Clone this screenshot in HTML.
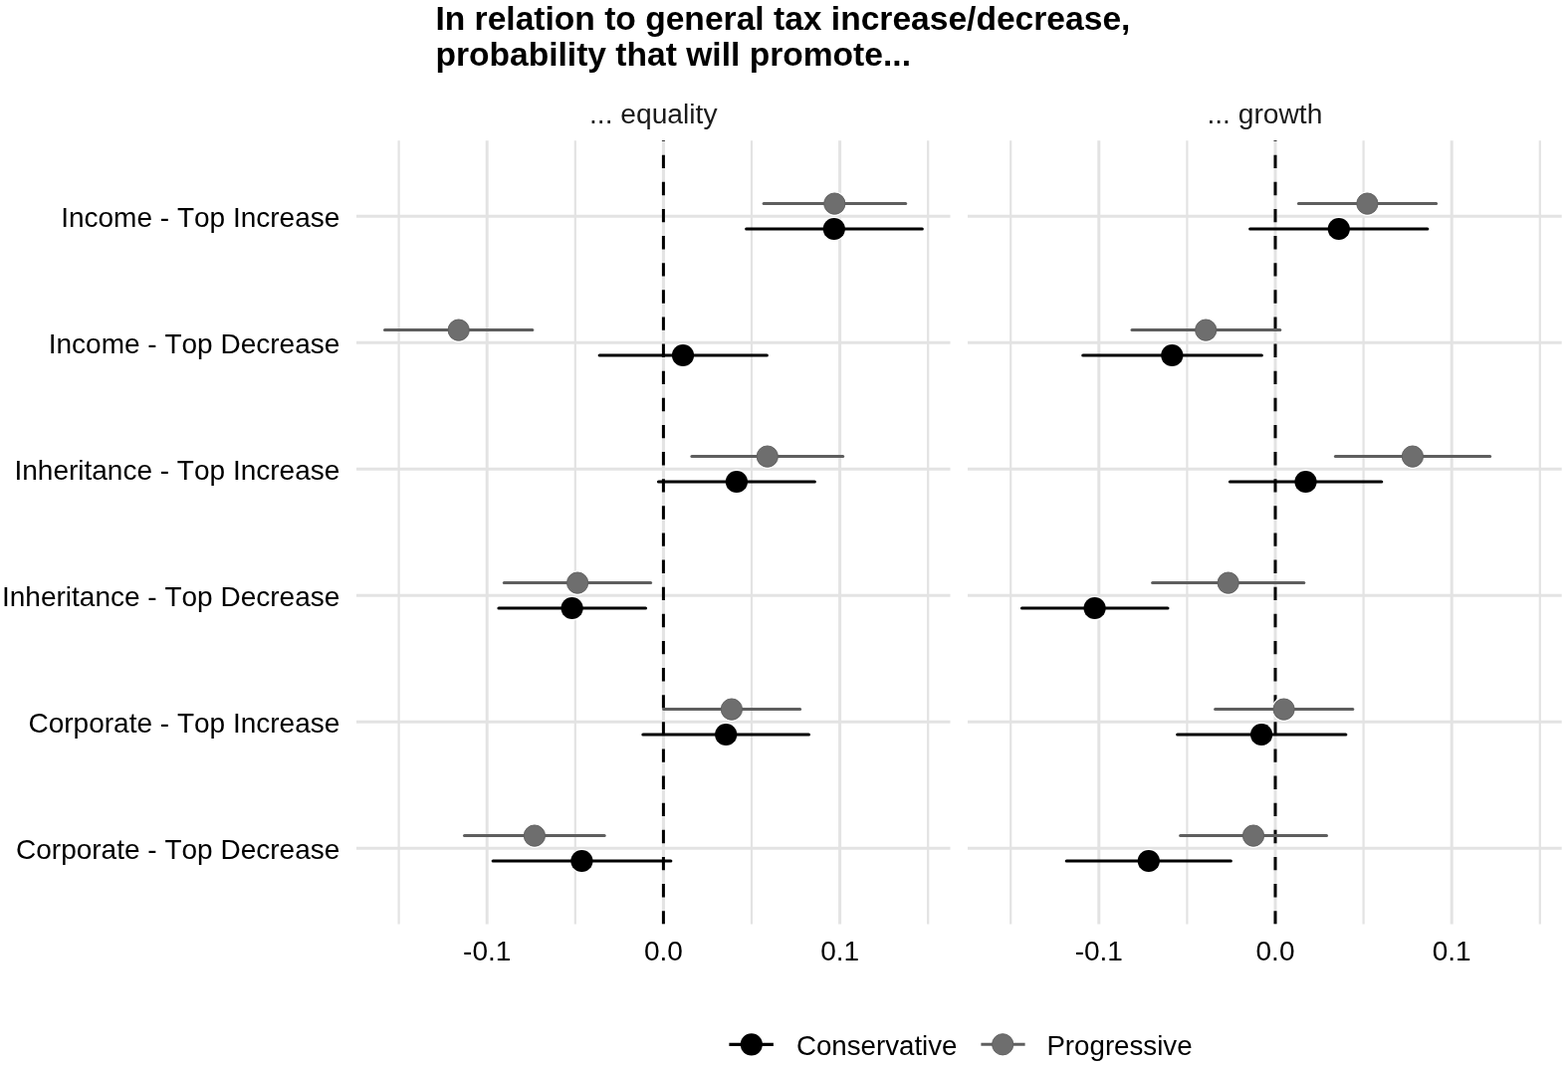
<!DOCTYPE html>
<html><head><meta charset="utf-8"><title>Tax increase/decrease probability plot</title>
<style>
html,body{margin:0;padding:0;background:#fff;}
body{width:1575px;height:1072px;overflow:hidden;}
svg{display:block;font-kerning:none;font-family:"Liberation Sans",Arial,Helvetica,sans-serif;}
</style></head>
<body>
<svg width="1575" height="1072" viewBox="0 0 1575 1072">
<rect width="1575" height="1072" fill="#fff"/>
<clipPath id="cl"><rect x="358" y="141.3" width="596.5" height="787.2"/></clipPath>
<line x1="400.6" y1="141.3" x2="400.6" y2="928.5" stroke="#e3e3e3" stroke-width="2.2"/>
<line x1="577.8" y1="141.3" x2="577.8" y2="928.5" stroke="#e3e3e3" stroke-width="2.2"/>
<line x1="755" y1="141.3" x2="755" y2="928.5" stroke="#e3e3e3" stroke-width="2.2"/>
<line x1="932.2" y1="141.3" x2="932.2" y2="928.5" stroke="#e3e3e3" stroke-width="2.2"/>
<line x1="489.2" y1="141.3" x2="489.2" y2="928.5" stroke="#e3e3e3" stroke-width="3.0"/>
<line x1="666.4" y1="141.3" x2="666.4" y2="928.5" stroke="#e3e3e3" stroke-width="3.0"/>
<line x1="843.6" y1="141.3" x2="843.6" y2="928.5" stroke="#e3e3e3" stroke-width="3.0"/>
<line x1="358" y1="217.3" x2="954.5" y2="217.3" stroke="#e3e3e3" stroke-width="3.0"/>
<line x1="358" y1="344.3" x2="954.5" y2="344.3" stroke="#e3e3e3" stroke-width="3.0"/>
<line x1="358" y1="471.3" x2="954.5" y2="471.3" stroke="#e3e3e3" stroke-width="3.0"/>
<line x1="358" y1="598.3" x2="954.5" y2="598.3" stroke="#e3e3e3" stroke-width="3.0"/>
<line x1="358" y1="725.3" x2="954.5" y2="725.3" stroke="#e3e3e3" stroke-width="3.0"/>
<line x1="358" y1="852.3" x2="954.5" y2="852.3" stroke="#e3e3e3" stroke-width="3.0"/>
<line clip-path="url(#cl)" x1="666.4" y1="128.575" x2="666.4" y2="948.5" stroke="#000" stroke-width="3" stroke-dasharray="13.4 13.725"/>
<circle cx="838.3" cy="204.6" r="12.3" fill="#fff"/>
<circle cx="837.8" cy="230" r="12.3" fill="#fff"/>
<circle cx="460.7" cy="331.6" r="12.3" fill="#fff"/>
<circle cx="686" cy="357" r="12.3" fill="#fff"/>
<circle cx="770.8" cy="458.6" r="12.3" fill="#fff"/>
<circle cx="739.9" cy="484" r="12.3" fill="#fff"/>
<circle cx="580.1" cy="585.6" r="12.3" fill="#fff"/>
<circle cx="574.6" cy="611" r="12.3" fill="#fff"/>
<circle cx="734.9" cy="712.6" r="12.3" fill="#fff"/>
<circle cx="729.2" cy="738" r="12.3" fill="#fff"/>
<circle cx="536.9" cy="839.6" r="12.3" fill="#fff"/>
<circle cx="584.4" cy="865" r="12.3" fill="#fff"/>
<line x1="767.1" y1="204.6" x2="909.7" y2="204.6" stroke="#5e5e5e" stroke-width="3.0" stroke-linecap="round"/>
<circle cx="838.3" cy="204.6" r="10.65" fill="#6e6e6e" stroke="#5f5f5f" stroke-width="0.9"/>
<line x1="749.7" y1="230" x2="926.3" y2="230" stroke="#000" stroke-width="3.2" stroke-linecap="round"/>
<circle cx="837.8" cy="230" r="11.1" fill="#000"/>
<line x1="386.5" y1="331.6" x2="534.8" y2="331.6" stroke="#5e5e5e" stroke-width="3.0" stroke-linecap="round"/>
<circle cx="460.7" cy="331.6" r="10.65" fill="#6e6e6e" stroke="#5f5f5f" stroke-width="0.9"/>
<line x1="602.2" y1="357" x2="770.3" y2="357" stroke="#000" stroke-width="3.2" stroke-linecap="round"/>
<circle cx="686" cy="357" r="11.1" fill="#000"/>
<line x1="694.9" y1="458.6" x2="846.7" y2="458.6" stroke="#5e5e5e" stroke-width="3.0" stroke-linecap="round"/>
<circle cx="770.8" cy="458.6" r="10.65" fill="#6e6e6e" stroke="#5f5f5f" stroke-width="0.9"/>
<line x1="661.5" y1="484" x2="818.3" y2="484" stroke="#000" stroke-width="3.2" stroke-linecap="round"/>
<circle cx="739.9" cy="484" r="11.1" fill="#000"/>
<line x1="506.3" y1="585.6" x2="653.6" y2="585.6" stroke="#5e5e5e" stroke-width="3.0" stroke-linecap="round"/>
<circle cx="580.1" cy="585.6" r="10.65" fill="#6e6e6e" stroke="#5f5f5f" stroke-width="0.9"/>
<line x1="501" y1="611" x2="648.5" y2="611" stroke="#000" stroke-width="3.2" stroke-linecap="round"/>
<circle cx="574.6" cy="611" r="11.1" fill="#000"/>
<line x1="666.6" y1="712.6" x2="803.6" y2="712.6" stroke="#5e5e5e" stroke-width="3.0" stroke-linecap="round"/>
<circle cx="734.9" cy="712.6" r="10.65" fill="#6e6e6e" stroke="#5f5f5f" stroke-width="0.9"/>
<line x1="645.9" y1="738" x2="812.4" y2="738" stroke="#000" stroke-width="3.2" stroke-linecap="round"/>
<circle cx="729.2" cy="738" r="11.1" fill="#000"/>
<line x1="466.5" y1="839.6" x2="607.2" y2="839.6" stroke="#5e5e5e" stroke-width="3.0" stroke-linecap="round"/>
<circle cx="536.9" cy="839.6" r="10.65" fill="#6e6e6e" stroke="#5f5f5f" stroke-width="0.9"/>
<line x1="495.2" y1="865" x2="673.8" y2="865" stroke="#000" stroke-width="3.2" stroke-linecap="round"/>
<circle cx="584.4" cy="865" r="11.1" fill="#000"/>
<clipPath id="cr"><rect x="972" y="141.3" width="596.7" height="787.2"/></clipPath>
<line x1="1015.2" y1="141.3" x2="1015.2" y2="928.5" stroke="#e3e3e3" stroke-width="2.2"/>
<line x1="1192.4" y1="141.3" x2="1192.4" y2="928.5" stroke="#e3e3e3" stroke-width="2.2"/>
<line x1="1369.6" y1="141.3" x2="1369.6" y2="928.5" stroke="#e3e3e3" stroke-width="2.2"/>
<line x1="1546.8" y1="141.3" x2="1546.8" y2="928.5" stroke="#e3e3e3" stroke-width="2.2"/>
<line x1="1103.8" y1="141.3" x2="1103.8" y2="928.5" stroke="#e3e3e3" stroke-width="3.0"/>
<line x1="1281" y1="141.3" x2="1281" y2="928.5" stroke="#e3e3e3" stroke-width="3.0"/>
<line x1="1458.2" y1="141.3" x2="1458.2" y2="928.5" stroke="#e3e3e3" stroke-width="3.0"/>
<line x1="972" y1="217.3" x2="1568.7" y2="217.3" stroke="#e3e3e3" stroke-width="3.0"/>
<line x1="972" y1="344.3" x2="1568.7" y2="344.3" stroke="#e3e3e3" stroke-width="3.0"/>
<line x1="972" y1="471.3" x2="1568.7" y2="471.3" stroke="#e3e3e3" stroke-width="3.0"/>
<line x1="972" y1="598.3" x2="1568.7" y2="598.3" stroke="#e3e3e3" stroke-width="3.0"/>
<line x1="972" y1="725.3" x2="1568.7" y2="725.3" stroke="#e3e3e3" stroke-width="3.0"/>
<line x1="972" y1="852.3" x2="1568.7" y2="852.3" stroke="#e3e3e3" stroke-width="3.0"/>
<line clip-path="url(#cr)" x1="1281" y1="128.575" x2="1281" y2="948.5" stroke="#000" stroke-width="3" stroke-dasharray="13.4 13.725"/>
<circle cx="1373.4" cy="204.6" r="12.3" fill="#fff"/>
<circle cx="1344.8" cy="230" r="12.3" fill="#fff"/>
<circle cx="1211.2" cy="331.6" r="12.3" fill="#fff"/>
<circle cx="1177.3" cy="357" r="12.3" fill="#fff"/>
<circle cx="1418.9" cy="458.6" r="12.3" fill="#fff"/>
<circle cx="1311.5" cy="484" r="12.3" fill="#fff"/>
<circle cx="1233.7" cy="585.6" r="12.3" fill="#fff"/>
<circle cx="1099.6" cy="611" r="12.3" fill="#fff"/>
<circle cx="1289.6" cy="712.6" r="12.3" fill="#fff"/>
<circle cx="1267.1" cy="738" r="12.3" fill="#fff"/>
<circle cx="1259" cy="839.6" r="12.3" fill="#fff"/>
<circle cx="1153.8" cy="865" r="12.3" fill="#fff"/>
<line x1="1304.4" y1="204.6" x2="1442.6" y2="204.6" stroke="#5e5e5e" stroke-width="3.0" stroke-linecap="round"/>
<circle cx="1373.4" cy="204.6" r="10.65" fill="#6e6e6e" stroke="#5f5f5f" stroke-width="0.9"/>
<line x1="1255.7" y1="230" x2="1433.8" y2="230" stroke="#000" stroke-width="3.2" stroke-linecap="round"/>
<circle cx="1344.8" cy="230" r="11.1" fill="#000"/>
<line x1="1137" y1="331.6" x2="1285.8" y2="331.6" stroke="#5e5e5e" stroke-width="3.0" stroke-linecap="round"/>
<circle cx="1211.2" cy="331.6" r="10.65" fill="#6e6e6e" stroke="#5f5f5f" stroke-width="0.9"/>
<line x1="1087.8" y1="357" x2="1267.3" y2="357" stroke="#000" stroke-width="3.2" stroke-linecap="round"/>
<circle cx="1177.3" cy="357" r="11.1" fill="#000"/>
<line x1="1341.4" y1="458.6" x2="1496.7" y2="458.6" stroke="#5e5e5e" stroke-width="3.0" stroke-linecap="round"/>
<circle cx="1418.9" cy="458.6" r="10.65" fill="#6e6e6e" stroke="#5f5f5f" stroke-width="0.9"/>
<line x1="1235.5" y1="484" x2="1387.7" y2="484" stroke="#000" stroke-width="3.2" stroke-linecap="round"/>
<circle cx="1311.5" cy="484" r="11.1" fill="#000"/>
<line x1="1157.6" y1="585.6" x2="1309.8" y2="585.6" stroke="#5e5e5e" stroke-width="3.0" stroke-linecap="round"/>
<circle cx="1233.7" cy="585.6" r="10.65" fill="#6e6e6e" stroke="#5f5f5f" stroke-width="0.9"/>
<line x1="1026.5" y1="611" x2="1172.9" y2="611" stroke="#000" stroke-width="3.2" stroke-linecap="round"/>
<circle cx="1099.6" cy="611" r="11.1" fill="#000"/>
<line x1="1220.6" y1="712.6" x2="1358.8" y2="712.6" stroke="#5e5e5e" stroke-width="3.0" stroke-linecap="round"/>
<circle cx="1289.6" cy="712.6" r="10.65" fill="#6e6e6e" stroke="#5f5f5f" stroke-width="0.9"/>
<line x1="1182.7" y1="738" x2="1351.8" y2="738" stroke="#000" stroke-width="3.2" stroke-linecap="round"/>
<circle cx="1267.1" cy="738" r="11.1" fill="#000"/>
<line x1="1185.6" y1="839.6" x2="1332.5" y2="839.6" stroke="#5e5e5e" stroke-width="3.0" stroke-linecap="round"/>
<circle cx="1259" cy="839.6" r="10.65" fill="#6e6e6e" stroke="#5f5f5f" stroke-width="0.9"/>
<line x1="1071.3" y1="865" x2="1236.3" y2="865" stroke="#000" stroke-width="3.2" stroke-linecap="round"/>
<circle cx="1153.8" cy="865" r="11.1" fill="#000"/>
<text x="437.4" y="29.9" font-size="33.6" font-weight="bold" fill="#000">In relation to general tax increase/decrease,</text>
<text x="437.4" y="65.8" font-size="33.6" font-weight="bold" fill="#000">probability that will promote...</text>
<text x="656.25" y="124.4" font-size="28.2" text-anchor="middle" fill="#1a1a1a">... equality</text>
<text x="1270.35" y="124.4" font-size="28.2" text-anchor="middle" fill="#1a1a1a">... growth</text>
<text x="341.3" y="227.8" font-size="28.0" text-anchor="end" fill="#000">Income - Top Increase</text>
<text x="341.3" y="354.8" font-size="28.0" text-anchor="end" fill="#000">Income - Top Decrease</text>
<text x="341.3" y="481.8" font-size="28.0" text-anchor="end" fill="#000">Inheritance - Top Increase</text>
<text x="341.3" y="608.8" font-size="28.0" text-anchor="end" fill="#000">Inheritance - Top Decrease</text>
<text x="341.3" y="735.8" font-size="28.0" text-anchor="end" fill="#000">Corporate - Top Increase</text>
<text x="341.3" y="862.8" font-size="28.0" text-anchor="end" fill="#000">Corporate - Top Decrease</text>
<text x="489.2" y="964.5" font-size="28" text-anchor="middle" fill="#000">-0.1</text>
<text x="666.4" y="964.5" font-size="28" text-anchor="middle" fill="#000">0.0</text>
<text x="843.6" y="964.5" font-size="28" text-anchor="middle" fill="#000">0.1</text>
<text x="1103.8" y="964.5" font-size="28" text-anchor="middle" fill="#000">-0.1</text>
<text x="1281" y="964.5" font-size="28" text-anchor="middle" fill="#000">0.0</text>
<text x="1458.2" y="964.5" font-size="28" text-anchor="middle" fill="#000">0.1</text>
<line x1="732.4" y1="1049.3" x2="776.9" y2="1049.3" stroke="#000" stroke-width="3.2"/>
<circle cx="754.8" cy="1049.3" r="11.1" fill="#000"/>
<text x="799.9" y="1059.8" font-size="27.7" fill="#000">Conservative</text>
<line x1="985.4" y1="1049.3" x2="1029.6" y2="1049.3" stroke="#5e5e5e" stroke-width="3.0"/>
<circle cx="1007.2" cy="1049.3" r="10.65" fill="#6e6e6e" stroke="#5f5f5f" stroke-width="0.9"/>
<text x="1051.4" y="1059.8" font-size="27.7" fill="#000">Progressive</text>
</svg>
</body></html>
